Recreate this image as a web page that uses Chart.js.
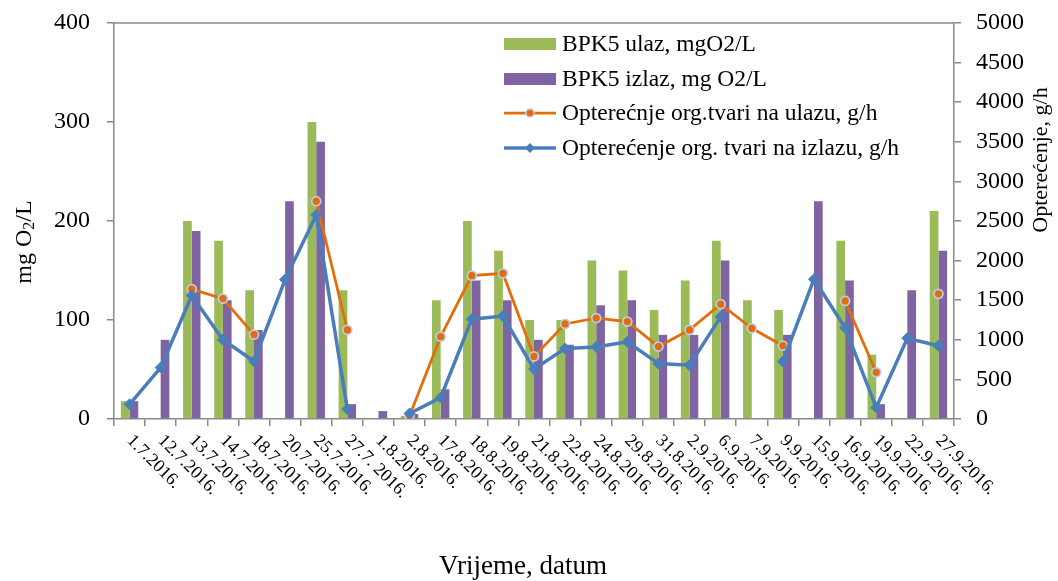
<!DOCTYPE html>
<html>
<head>
<meta charset="utf-8">
<title>BPK5</title>
<script src="https://cdn.jsdelivr.net/npm/chart.js@4.4.0/dist/chart.umd.min.js"></script>
<style>
    html, body { margin: 0; padding: 0; background: #fff; }
</style>
</head>
<body>
<canvas id="bpk-chart" width="1058" height="581"></canvas>
<script>
// ---- DATA ----
const dates = ['1.7.2016.', '12.7.2016.', '13.7.2016.', '14.7.2016.', '18.7.2016.', '20.7.2016.',
    '25.7.2016.', '27.7. 2016.', '1.8.2016.', '2.8.2016.', '17.8.2016.', '18.8.2016.', '19.8.2016.',
    '21.8.2016.', '22.8.2016.', '24.8.2016.', '29.8.2016.', '31.8.2016.', '2.9.2016.', '6.9.2016.',
    '7.9.2016.', '9.9.2016.', '15.9.2016.', '16.9.2016.', '19.9.2016.', '22.9.2016.', '27.9.2016.'];

// mg O2/L (left axis)
const bpkUlaz  = [18, null, 200, 180, 130, null, 300, 130, null, 3, 120, 200, 170, 100,
    100, 160, 150, 110, 140, 180, 120, 110, null, 180, 65, null, 210];
const bpkIzlaz = [18, 80, 190, 120, 90, 220, 280, 15, 8, 5, 30, 140, 120, 80,
    75, 115, 120, 85, 85, 160, null, 85, 220, 140, 15, 130, 170];

// g/h (right axis)
const loadUlaz  = [null, null, 1640, 1520, 1065, null, 2750, 1125, null, 40, 1040, 1810, 1840, 790,
    1200, 1275, 1230, 915, 1125, 1450, 1145, 925, null, 1490, 590, null, 1580];
const loadIzlaz = [185, 650, 1560, 1000, 730, 1760, 2575, 125, null, 70, 270, 1260, 1300, 630,
    890, 910, 975, 700, 680, 1290, null, 725, 1765, 1150, 145, 1020, 925];

const leftRange = [0, 400, 100];     // min, max, step
const rightRange = [0, 5000, 500];

const seriesNames = ['BPK5 ulaz, mgO2/L', 'BPK5 izlaz, mg O2/L',
    'Opterećnje org.tvari na ulazu, g/h', 'Opterećenje org. tvari na izlazu, g/h'];

// ---- STYLE ----
const SERIF = '"Liberation Serif", "Times New Roman", serif';
const AXIS = '#898989';
const GREEN = '#9BBB59';
const PURPLE = '#8064A2';
const ORANGE = '#E46C0A';
const BLUE = '#4A7EBB';
const RING = '#B9CDE5';

// text, axis titles, legend and slanted date labels
const overlay = {
    id: 'overlay',
    afterDraw(chart) {
        const { ctx, chartArea, scales } = chart;
        ctx.save();

        // top frame line
        ctx.strokeStyle = AXIS;
        ctx.lineWidth = 1.5;
        ctx.beginPath();
        ctx.moveTo(chartArea.left, chartArea.top);
        ctx.lineTo(chartArea.right, chartArea.top);
        ctx.stroke();

        ctx.fillStyle = '#000';

        // date labels, slanting down to the right
        ctx.font = '18px ' + SERIF;
        ctx.textAlign = 'left';
        ctx.textBaseline = 'middle';
        dates.forEach((d, i) => {
            const px = scales.x.getPixelForTick(i);
            ctx.save();
            ctx.translate(px, chartArea.bottom + 19);
            ctx.rotate(Math.PI / 4);
            ctx.fillText(d, 0, 0);
            ctx.restore();
        });

        // x title
        ctx.font = '27px ' + SERIF;
        ctx.textAlign = 'center';
        ctx.fillText('Vrijeme, datum', 523, 567);

        // left title with subscript
        ctx.save();
        ctx.translate(25, 242);
        ctx.rotate(-Math.PI / 2);
        ctx.textAlign = 'left';
        const big = '24px ' + SERIF, small = '16px ' + SERIF;
        ctx.font = big;
        const a = 'mg O', c = '/L';
        const wa = ctx.measureText(a).width, wc = ctx.measureText(c).width;
        ctx.font = small;
        const wb = ctx.measureText('2').width;
        const sx = -(wa + wb + wc) / 2;
        ctx.font = big;
        ctx.fillText(a, sx, 0);
        ctx.font = small;
        ctx.fillText('2', sx + wa, 5);
        ctx.font = big;
        ctx.fillText(c, sx + wa + wb, 0);
        ctx.restore();

        // right title
        ctx.save();
        ctx.translate(1041, 160);
        ctx.rotate(-Math.PI / 2);
        ctx.font = '22px ' + SERIF;
        ctx.textAlign = 'center';
        ctx.fillText('Opterećenje, g/h', 0, 0);
        ctx.restore();

        // legend
        const lx = 504, lw = 52, tx = 562;
        const rows = [44, 79, 113, 148];
        ctx.fillStyle = GREEN;
        ctx.fillRect(lx, rows[0] - 6, lw, 12);
        ctx.fillStyle = PURPLE;
        ctx.fillRect(lx, rows[1] - 6, lw, 12);

        ctx.strokeStyle = ORANGE;
        ctx.lineWidth = 2.75;
        ctx.beginPath();
        ctx.moveTo(lx, rows[2]);
        ctx.lineTo(lx + lw, rows[2]);
        ctx.stroke();
        ctx.beginPath();
        ctx.arc(lx + lw / 2, rows[2], 4, 0, Math.PI * 2);
        ctx.fillStyle = ORANGE;
        ctx.fill();
        ctx.strokeStyle = RING;
        ctx.lineWidth = 1.5;
        ctx.stroke();

        ctx.strokeStyle = BLUE;
        ctx.lineWidth = 3.5;
        ctx.beginPath();
        ctx.moveTo(lx, rows[3]);
        ctx.lineTo(lx + lw, rows[3]);
        ctx.stroke();
        const r = 5, cx = lx + lw / 2;
        ctx.beginPath();
        ctx.moveTo(cx - r, rows[3]);
        ctx.lineTo(cx, rows[3] - r);
        ctx.lineTo(cx + r, rows[3]);
        ctx.lineTo(cx, rows[3] + r);
        ctx.closePath();
        ctx.fillStyle = BLUE;
        ctx.fill();

        ctx.fillStyle = '#000';
        ctx.font = '23.5px ' + SERIF;
        ctx.textAlign = 'left';
        ctx.textBaseline = 'middle';
        seriesNames.forEach((name, i) => ctx.fillText(name, tx, rows[i] + 1));

        ctx.restore();
    }
};

const tickFont = size => ({ family: SERIF, size: size });

// fixed axis sizes so the plot area sits where the original one does
const fixWidth = w => s => {
    s.width = w;
    s.paddingTop = 0;
    s.paddingBottom = 0;
};

new Chart(document.getElementById('bpk-chart'), {
    type: 'bar',
    data: {
        labels: dates,
        datasets: [
            {
                type: 'line',
                label: seriesNames[3],
                data: loadIzlaz,
                yAxisID: 'y1',
                order: 0,
                borderColor: BLUE,
                borderWidth: 3.5,
                pointStyle: 'rectRot',
                pointRadius: 5.5,
                pointBackgroundColor: BLUE,
                pointBorderColor: BLUE,
                pointBorderWidth: 1,
                tension: 0,
                spanGaps: false
            },
            {
                type: 'line',
                label: seriesNames[2],
                data: loadUlaz,
                yAxisID: 'y1',
                order: 1,
                borderColor: ORANGE,
                borderWidth: 2.75,
                pointStyle: 'circle',
                pointRadius: 4.5,
                pointBackgroundColor: ORANGE,
                pointBorderColor: RING,
                pointBorderWidth: 1.75,
                tension: 0,
                spanGaps: false
            },
            {
                label: seriesNames[0],
                data: bpkUlaz,
                yAxisID: 'y',
                order: 2,
                backgroundColor: GREEN,
                borderWidth: 0,
                categoryPercentage: 0.56,
                barPercentage: 1.0
            },
            {
                label: seriesNames[1],
                data: bpkIzlaz,
                yAxisID: 'y',
                order: 3,
                backgroundColor: PURPLE,
                borderWidth: 0,
                categoryPercentage: 0.56,
                barPercentage: 1.0
            }
        ]
    },
    options: {
        responsive: false,
        animation: false,
        layout: { padding: { top: 23, left: 0, right: 0, bottom: 0 } },
        plugins: {
            legend: { display: false },
            tooltip: { enabled: false }
        },
        scales: {
            x: {
                offset: true,
                grid: {
                    offset: true,
                    drawOnChartArea: false,
                    drawTicks: true,
                    tickLength: 7,
                    color: AXIS,
                    lineWidth: 1.5
                },
                border: { display: true, color: AXIS, width: 1.5 },
                ticks: { display: false },
                afterFit: s => {
                    s.height = 162;
                    s.paddingLeft = 0;
                    s.paddingRight = 0;
                }
            },
            y: {
                position: 'left',
                min: leftRange[0],
                max: leftRange[1],
                ticks: {
                    stepSize: leftRange[2],
                    color: '#000',
                    font: tickFont(24),
                    padding: 17,
                    callback: v => String(v)
                },
                grid: {
                    drawOnChartArea: false,
                    drawTicks: true,
                    tickLength: 7,
                    color: AXIS,
                    lineWidth: 1.5
                },
                border: { display: true, color: AXIS, width: 1.5 },
                afterFit: fixWidth(114)
            },
            y1: {
                position: 'right',
                min: rightRange[0],
                max: rightRange[1],
                ticks: {
                    stepSize: rightRange[2],
                    color: '#000',
                    font: tickFont(24),
                    padding: 15,
                    callback: v => String(v)
                },
                grid: {
                    drawOnChartArea: false,
                    drawTicks: true,
                    tickLength: 7,
                    color: AXIS,
                    lineWidth: 1.5
                },
                border: { display: true, color: AXIS, width: 1.5 },
                afterFit: fixWidth(104)
            }
        }
    },
    plugins: [overlay]
});
</script>
</body>
</html>
